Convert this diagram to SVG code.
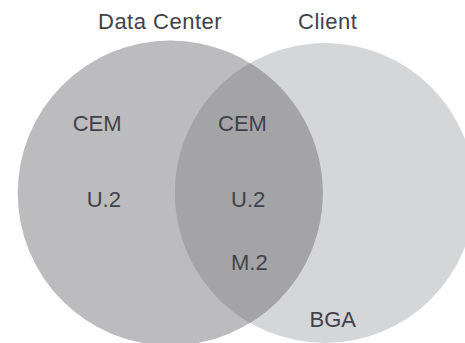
<svg xmlns="http://www.w3.org/2000/svg" width="465" height="343" viewBox="0 0 465 343">
<style>
text{font-family:"Liberation Sans",Arial,Helvetica,sans-serif;font-size:22px;fill:#3f424a}
.title{letter-spacing:0.5px}
</style>
<rect width="465" height="343" fill="#ffffff"/>
<g id="client">
<circle cx="325" cy="193" r="150" fill="#d5d6d8"/>
<text class="title" x="298" y="29">Client</text>
</g>
<g id="datacenter">
<circle cx="170.2" cy="193" r="152.5" fill="#bcbcbe"/>
<text class="title" x="98" y="29">Data Center</text>
</g>
<g id="intersection">
<path d="M250 63 A150 150 0 0 0 250 323 A152.5 152.5 0 0 0 250 63 Z" fill="#a4a4a6"/>
</g>
<g id="labels">
<text x="72.7" y="131">CEM</text>
<text x="86.7" y="207">U.2</text>
<text x="218" y="131">CEM</text>
<text x="231" y="207">U.2</text>
<text x="231" y="270">M.2</text>
<text x="309.5" y="327">BGA</text>
</g>
<g id="connectors"></g>
</svg>
